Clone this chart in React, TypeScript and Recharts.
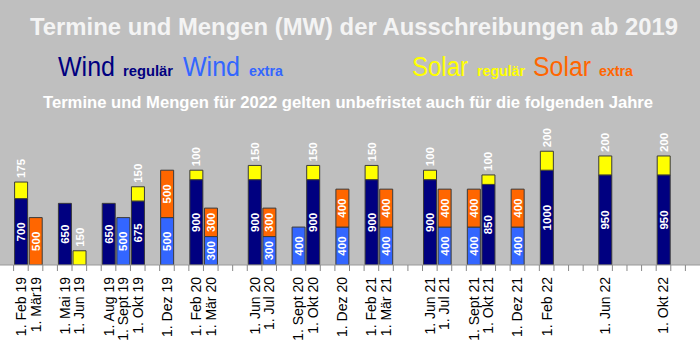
import React from "react";
import { BarChart, Bar, XAxis, YAxis, LabelList } from "recharts";

// ---- data ----
const monthNames = ["Jan", "Feb", "Mär", "Apr", "Mai", "Jun", "Jul", "Aug", "Sept", "Okt", "Nov", "Dez"];
const years = ["19", "20", "21", "22"];

const barMonths = ["Feb 19", "Mär 19", "Mai 19", "Jun 19", "Aug 19", "Sept 19", "Okt 19", "Dez 19", "Feb 20", "Mär 20", "Jun 20", "Jul 20", "Sept 20", "Okt 20", "Dez 20", "Feb 21", "Mär 21", "Jun 21", "Jul 21", "Sept 21", "Okt 21", "Dez 21", "Feb 22", "Jun 22", "Okt 22"];
const tickLabels = ["1. Feb 19", "1. Mär19", "1. Mai 19", "1. Jun 19", "1. Aug 19", "1. Sept 19", "1. Okt 19", "1. Dez 19", "1. Feb 20", "1. Mär 20", "1. Jun 20", "1. Jul 20", "1. Sept 20", "1. Okt 20", "1. Dez 20", "1. Feb 21", "1. Mär 21", "1. Jun 21", "1. Jul 21", "1. Sept 21", "1. Okt 21", "1. Dez 21", "1. Feb 22", "1. Jun 22", "1. Okt 22"];
const windRegular = [700, null, 650, null, 650, null, 675, null, 900, null, 900, null, null, 900, null, 900, null, 900, null, null, 850, null, 1000, 950, 950];
const windExtra = [null, null, null, null, null, 500, null, 500, null, 300, null, 300, 400, null, 400, null, 400, null, 400, 400, null, 400, null, null, null];
const solarRegular = [175, null, null, 150, null, null, 150, null, 100, null, 150, null, null, 150, null, 150, null, 100, null, null, 100, null, 200, 200, 200];
const solarExtra = [null, 500, null, null, null, null, null, 500, null, 300, null, 300, null, null, 400, null, 400, null, 400, 400, null, 400, null, null, null];

// axis categories: every month Jan 19 .. Dez 22
const axisMonths: string[] = [];
years.forEach((y) => monthNames.forEach((m) => axisMonths.push(`${m} ${y}`)));

const table = axisMonths.map((m) => {
  const i = barMonths.indexOf(m);
  return {
    m,
    label: i >= 0 ? tickLabels[i] : "",
    wr: i >= 0 ? windRegular[i] : null,
    we: i >= 0 ? windExtra[i] : null,
    sr: i >= 0 ? solarRegular[i] : null,
    se: i >= 0 ? solarExtra[i] : null,
  };
});

// ---- layout constants ----
const W = 700;
const H = 359;
const BASE_Y = 265;
const LEFT = -1;
const PLOT_W = W - LEFT;
const BAND = PLOT_W / axisMonths.length;
const FONT = "'Liberation Sans', Arial, sans-serif";

const renderTick = (props: any) => {
  const { x, index } = props;
  const lbl = table[index] ? table[index].label : "";
  const bx = x - BAND / 2;
  const tx = x + 5;
  const ty = BASE_Y + 12;
  return (
    <g>
      <line x1={bx} x2={bx} y1={BASE_Y} y2={BASE_Y + 6} stroke="#888" strokeWidth={1} />
      {lbl ? (
        <text x={tx} y={ty} transform={`rotate(-90, ${tx}, ${ty})`} textAnchor="end" fontFamily={FONT} fontSize={14} fill="#000">
          {lbl}
        </text>
      ) : null}
    </g>
  );
};

const insideLabel = (props: any) => {
  const { x, y, width, height, value } = props;
  if (value == null || !height) return null;
  const cx = x + width / 2 + 4;
  const cy = y + height / 2;
  return (
    <text x={cx} y={cy} transform={`rotate(-90, ${cx}, ${cy})`} textAnchor="middle" fontFamily={FONT} fontWeight="bold" fontSize={11.5} fill="#fff">
      {value}
    </text>
  );
};

const aboveLabel = (props: any) => {
  const { x, y, width, height, value } = props;
  if (value == null || !height) return null;
  const cx = x + width / 2 + 4;
  const cy = y - 4;
  return (
    <text x={cx} y={cy} transform={`rotate(-90, ${cx}, ${cy})`} textAnchor="start" fontFamily={FONT} fontWeight="bold" fontSize={11.5} fill="#fff">
      {value}
    </text>
  );
};

const BAR_STROKE = "#3a3a3a";

export default function App() {
  return (
    <div style={{ position: "absolute", left: 0, top: 0, width: W, height: H, background: "#fff", overflow: "hidden" }}>
      <div style={{ position: "absolute", left: 0, top: 0, width: W, height: BASE_Y, background: "#bfbfbf" }} />
      <div style={{ position: "absolute", left: 0, top: 0 }}>
        <BarChart width={W} height={H} data={table} margin={{ top: 0, right: 0, left: LEFT, bottom: 0 }} barCategoryGap={1}>
          <XAxis dataKey="m" height={H - BASE_Y} interval={0} tickLine={false} axisLine={{ stroke: "#999" }} tick={renderTick} />
          <YAxis hide domain={[0, 2795]} allowDataOverflow />
          <Bar dataKey="wr" stackId="a" fill="#000080" stroke={BAR_STROKE} strokeWidth={1} isAnimationActive={false}>
            <LabelList dataKey="wr" content={insideLabel} />
          </Bar>
          <Bar dataKey="we" stackId="a" fill="#3366ff" stroke={BAR_STROKE} strokeWidth={1} isAnimationActive={false}>
            <LabelList dataKey="we" content={insideLabel} />
          </Bar>
          <Bar dataKey="sr" stackId="a" fill="#ffff00" stroke={BAR_STROKE} strokeWidth={1} isAnimationActive={false}>
            <LabelList dataKey="sr" content={aboveLabel} />
          </Bar>
          <Bar dataKey="se" stackId="a" fill="#ff6600" stroke={BAR_STROKE} strokeWidth={1} isAnimationActive={false}>
            <LabelList dataKey="se" content={insideLabel} />
          </Bar>
        </BarChart>
      </div>
      <svg width={W} height={H} style={{ position: "absolute", left: 0, top: 0, pointerEvents: "none" }}>
        <text x={30} y={35} fontFamily={FONT} fontWeight="bold" fontSize={24} fill="#f4f4f4" textLength={648} lengthAdjust="spacingAndGlyphs">
          Termine und Mengen (MW) der Ausschreibungen ab 2019
        </text>
        <text x={58} y={76} fontFamily={FONT} fontSize={27} fill="#000080" textLength={57} lengthAdjust="spacingAndGlyphs">Wind</text>
        <text x={123} y={76} fontFamily={FONT} fontWeight="bold" fontSize={15} fill="#000080" textLength={50} lengthAdjust="spacingAndGlyphs">regulär</text>
        <text x={183} y={76} fontFamily={FONT} fontSize={27} fill="#3366ff" textLength={57} lengthAdjust="spacingAndGlyphs">Wind</text>
        <text x={249} y={76} fontFamily={FONT} fontWeight="bold" fontSize={15} fill="#3366ff" textLength={34} lengthAdjust="spacingAndGlyphs">extra</text>
        <text x={412} y={76} fontFamily={FONT} fontSize={27} fill="#ffff00" textLength={56} lengthAdjust="spacingAndGlyphs">Solar</text>
        <text x={477} y={76} fontFamily={FONT} fontWeight="bold" fontSize={15} fill="#ffff00" textLength={48} lengthAdjust="spacingAndGlyphs">regulär</text>
        <text x={533} y={76} fontFamily={FONT} fontSize={27} fill="#ff6600" textLength={58} lengthAdjust="spacingAndGlyphs">Solar</text>
        <text x={599} y={76} fontFamily={FONT} fontWeight="bold" fontSize={15} fill="#ff6600" textLength={34} lengthAdjust="spacingAndGlyphs">extra</text>
        <text x={43} y={108} fontFamily={FONT} fontWeight="bold" fontSize={16} fill="#fff" textLength={610} lengthAdjust="spacingAndGlyphs">
          Termine und Mengen für 2022 gelten unbefristet auch für die folgenden Jahre
        </text>
      </svg>
    </div>
  );
}
